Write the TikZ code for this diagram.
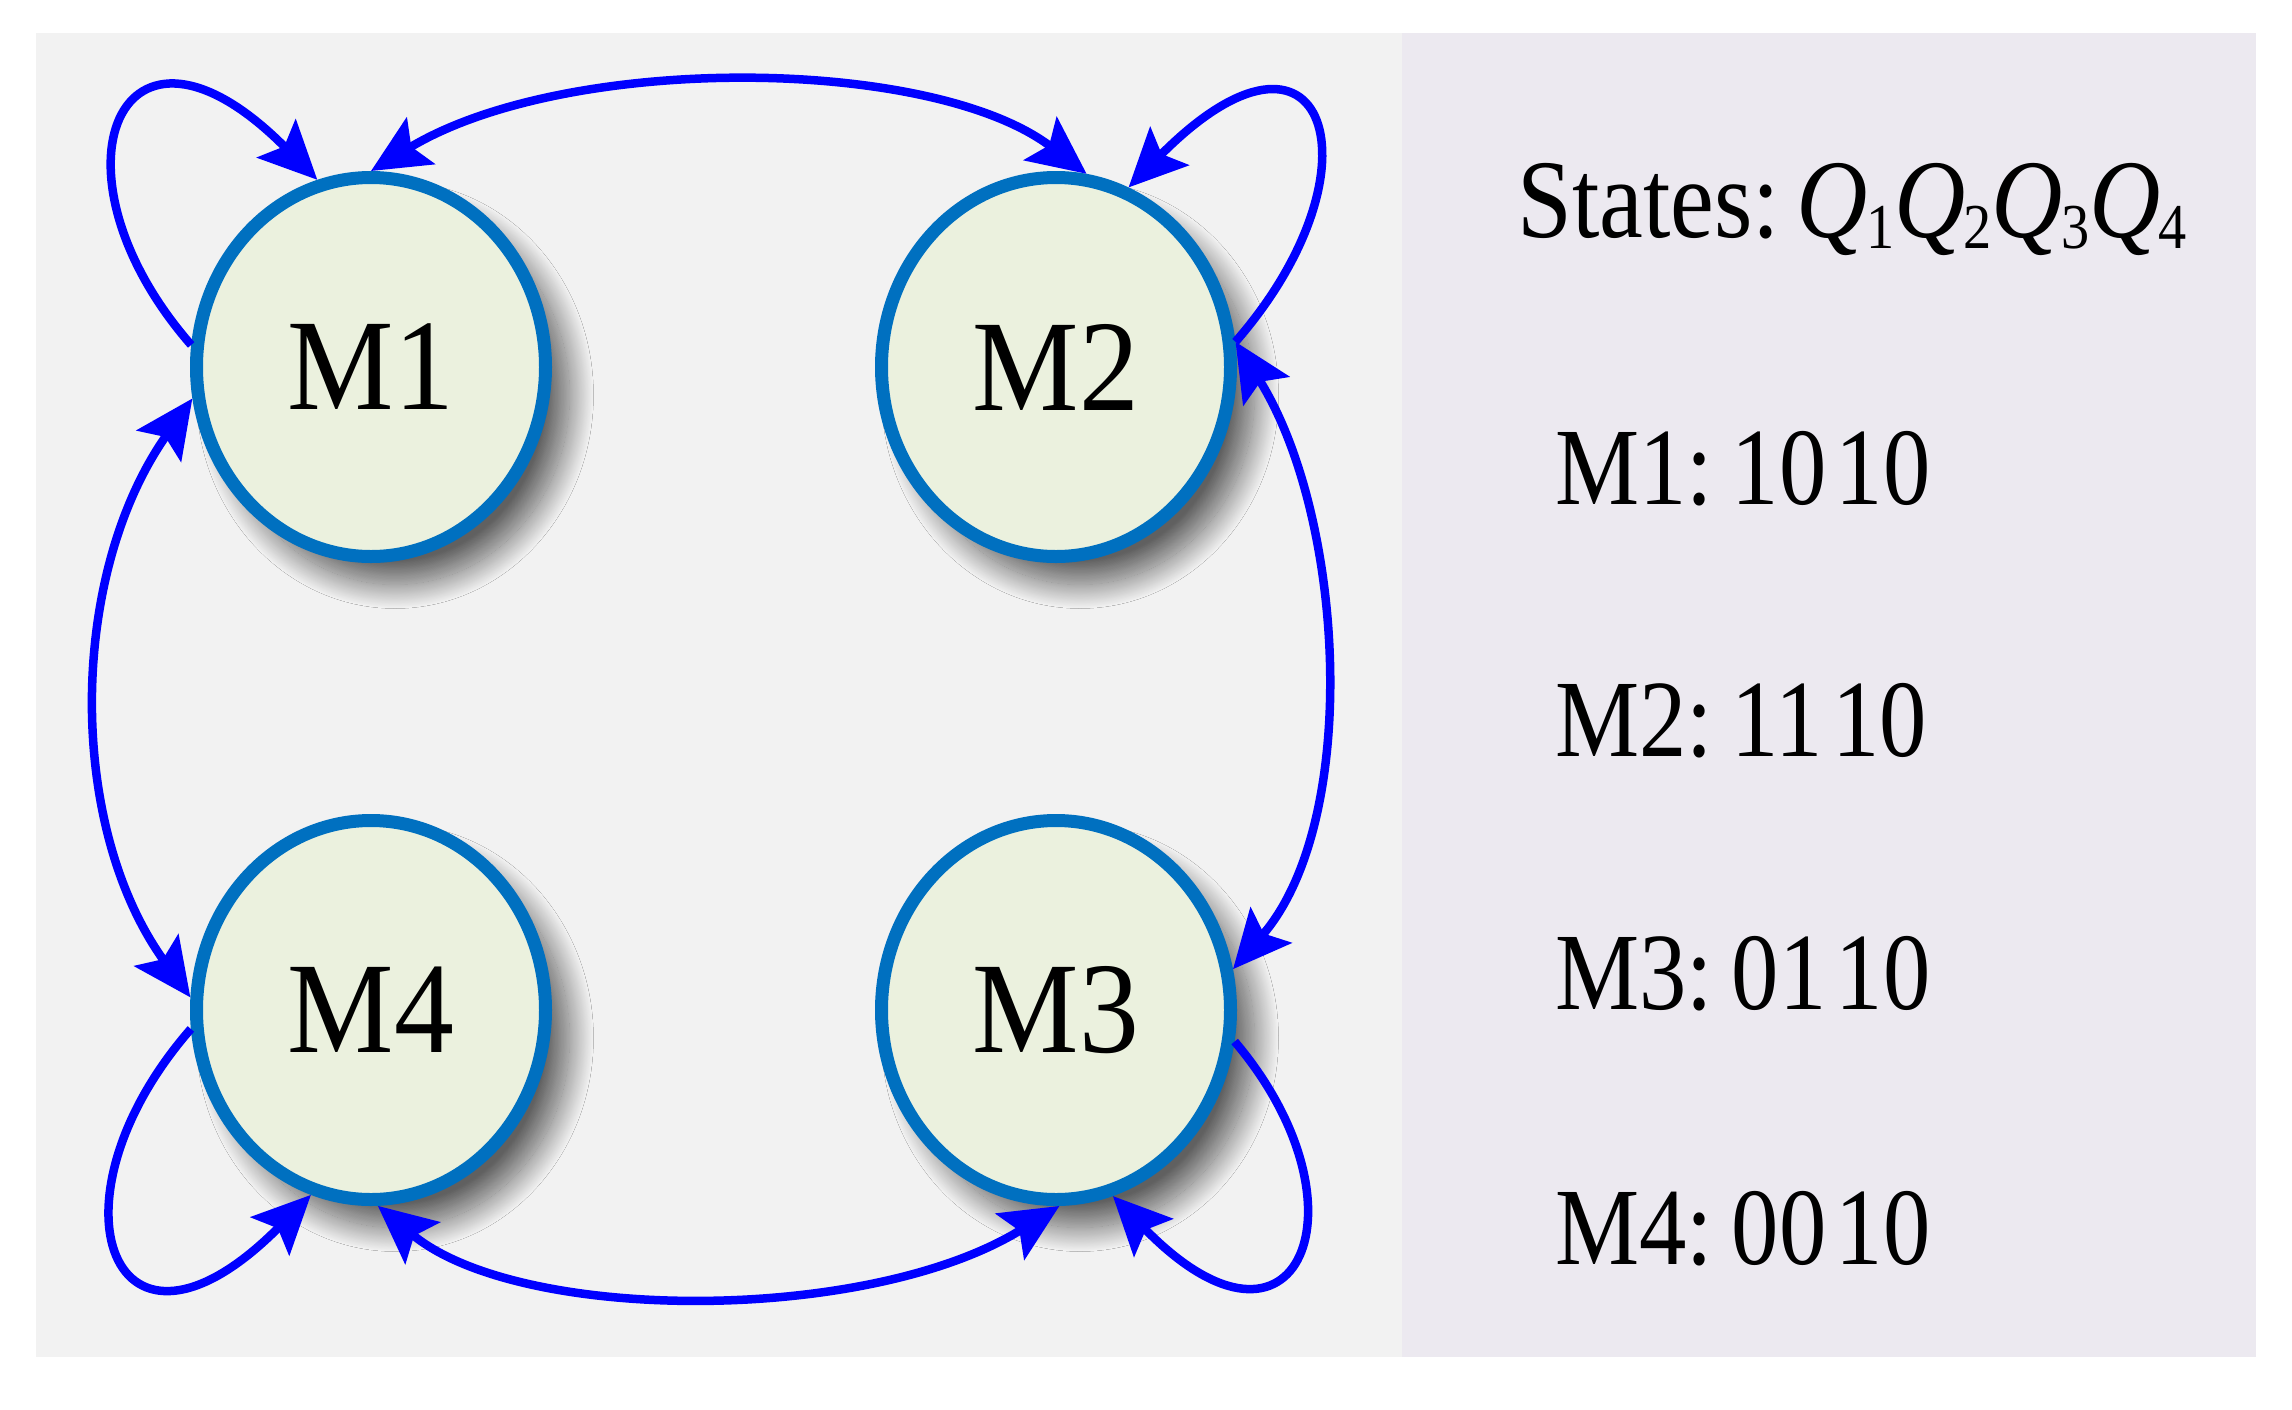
\documentclass[tikz,border=0pt]{standalone}
\usepackage{fontspec}
\setmainfont{Liberation Serif}
\usepackage{graphicx}
\usetikzlibrary{shapes.geometric,arrows.meta,shadows.blur}
\definecolor{panelL}{RGB}{242,242,242}
\definecolor{panelR}{RGB}{236,233,240}
\definecolor{nodefill}{RGB}{235,241,222}
\definecolor{nodeline}{RGB}{0,112,192}
\definecolor{arrowblue}{RGB}{0,0,255}
\newcommand{\qsub}[1]{\textit{Q}\kern-2pt\raisebox{-11pt}{\fontsize{64}{64}\selectfont #1}}
\begin{document}
\begin{tikzpicture}[x=1pt,y=-1pt,
  >={Stealth[length=58pt,width=54pt,inset=11pt]},
  state/.style={ellipse, draw=nodeline, line width=13pt, fill=nodefill,
    minimum width=349pt, minimum height=379pt, inner sep=0pt,
    font=\fontsize{130}{130}\selectfont,
    blur shadow={shadow xshift=24pt, shadow yshift=-28pt,
      shadow blur radius=24pt, shadow blur steps=40, shadow opacity=60}},
  conn/.style={draw=arrowblue, line width=8.5pt},
  code/.style={anchor=base west, inner sep=0pt, font=\fontsize{110}{110}\selectfont}
]
\useasboundingbox (0,0) rectangle (2292,1409);
\fill[white] (0,0) rectangle (2292,1409);
\fill[panelL] (36,33) rectangle (1402,1357);
\fill[panelR] (1402,33) rectangle (2256,1357);

\node[state] (M1) at (371,367) {\scalebox{0.92}[1]{M1}};
\node[state] (M2) at (1056,367) {\scalebox{0.92}[1]{M2}};
\node[state] (M3) at (1056,1010) {\scalebox{0.92}[1]{M3}};
\node[state] (M4) at (371,1010) {\scalebox{0.92}[1]{M4}};

% two-way arcs
\draw[conn,<->] (M1.90) .. controls +(195,-118) and +(-155,-118) .. (M2.81);
\draw[conn,<->] (M2.8) .. controls +(110,176) and +(128,-148) .. (M3.13);
\draw[conn,<->] (M1.190) .. controls +(-124,176) and +(-124,-172) .. (M4.176);
\draw[conn,<->] (M4.272) .. controls +(142,118) and +(-190,118) .. (M3.271);

% self loops
\draw[conn,->] (M1.173) .. controls +(-152,-174) and +(-197,-199) .. (M1.106);
\draw[conn,->] (M2.8) .. controls +(152,-174) and +(197,-199) .. (M2.68);
\draw[conn,->] (M3.350) .. controls +(140,165) and +(185,190) .. (M3.287);
\draw[conn,->] (M4.186) .. controls +(-152,174) and +(-197,199) .. (M4.252);

% state table
\node[code, font=\fontsize{112}{112}\selectfont] (st) at (1517,237)
  {\scalebox{0.88}[1]{States:\kern0.17em\qsub{1}\qsub{2}\qsub{3}\qsub{4}}};
\node[code] (r1) at (1555,504) {\scalebox{0.86}[1]{M1:\kern0.2em 10\kern0.1em 10}};
\node[code] (r2) at (1555,756) {\scalebox{0.86}[1]{M2:\kern0.2em 11\kern0.1em 10}};
\node[code] (r3) at (1555,1009) {\scalebox{0.86}[1]{M3:\kern0.2em 01\kern0.1em 10}};
\node[code] (r4) at (1555,1264) {\scalebox{0.86}[1]{M4:\kern0.2em 00\kern0.1em 10}};
\end{tikzpicture}
\end{document}
